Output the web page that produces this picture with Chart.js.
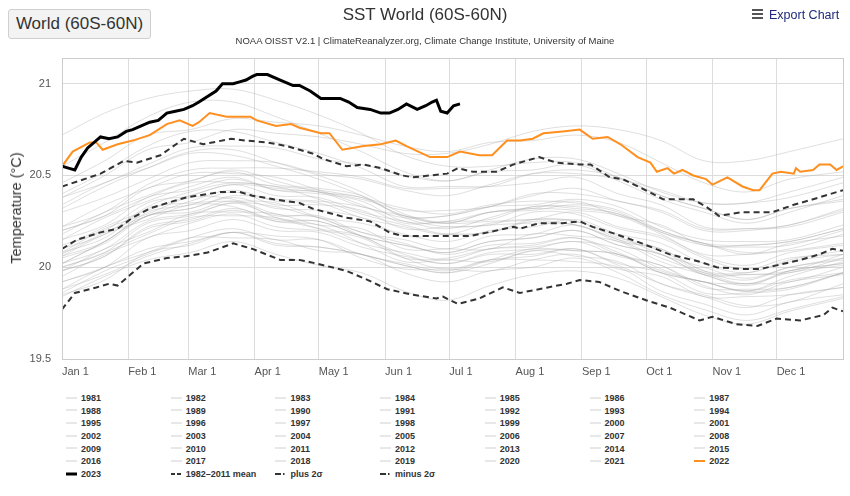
<!DOCTYPE html>
<html>
<head>
<meta charset="utf-8">
<title>SST World (60S-60N)</title>
<script src="https://cdn.jsdelivr.net/npm/chart.js@4"></script>
<style>
  body { margin: 0; background: #fff; font-family: "Liberation Sans", Arial, sans-serif; }
  #wrap { position: relative; width: 850px; height: 496px; overflow: hidden; }
  #chart { position: absolute; left: 0; top: 0; }
  .btn { position: absolute; left: 8px; top: 9px; width: 141px; height: 28px; border: 1px solid #cfcfcf; border-radius: 3px; background: #f3f3f3; font-size: 17px; line-height: 28px; text-align: center; color: #333; }
  .title { position: absolute; left: 0; width: 850px; top: 5px; text-align: center; font-size: 17px; color: #333; }
  .sub { position: absolute; left: 0; width: 850px; top: 35px; text-align: center; font-size: 9.5px; color: #333; }
  .export { position: absolute; left: 752px; top: 8px; font-size: 12.5px; color: #1f2a7a; }
  .export i { display: inline-block; width: 11px; height: 2px; background: #555; position: relative; top: -4px; margin-right: 6px; box-shadow: 0 -4px 0 #555, 0 4px 0 #555; }
  .ytitle { position: absolute; left: 16px; top: 208px; transform: translate(-50%, -50%) rotate(-90deg); font-size: 14.5px; color: #333; white-space: nowrap; }
  .leg { position: absolute; font-size: 9px; font-weight: bold; color: #333; white-space: nowrap; height: 12px; line-height: 12px; }
  .leg svg { vertical-align: middle; margin-right: 4px; position: relative; top: -1px; }
</style>
</head>
<body>
<div id="wrap">
  <canvas id="chart" width="850" height="382"></canvas>
  <div class="btn">World (60S-60N)</div>
  <div class="title">SST World (60S-60N)</div>
  <div class="sub">NOAA OISST V2.1 | ClimateReanalyzer.org, Climate Change Institute, University of Maine</div>
  <div class="export"><i></i>Export Chart</div>
  <div class="ytitle">Temperature (°C)</div>
  <div id="legend"></div>
</div>
<script>
// axis ticks
const MONTH_DAYS = [0, 31, 59, 90, 120, 151, 181, 212, 243, 273, 304, 334];
const MONTH_LABELS = ["Jan 1", "Feb 1", "Mar 1", "Apr 1", "May 1", "Jun 1", "Jul 1", "Aug 1", "Sep 1", "Oct 1", "Nov 1", "Dec 1"];
const Y_TICKS = [19.5, 20, 20.5, 21];

// 2023 (partial year)
const days2023 = [0,3,6,9,12,18,22,26,30,33,37,41,45,49,53,57,61,64,68,72,75,80,83,86,89,91,96,102,108,111,116,121,130,134,138,144,149,153,157,161,166,170,173,175,177,180,183,186];
const sst2023 = [20.55,20.54,20.53,20.60,20.65,20.71,20.70,20.71,20.74,20.75,20.77,20.79,20.80,20.84,20.85,20.86,20.88,20.90,20.93,20.96,21.00,21.00,21.01,21.02,21.04,21.05,21.05,21.02,20.99,20.99,20.96,20.92,20.92,20.90,20.87,20.86,20.84,20.84,20.86,20.89,20.86,20.88,20.90,20.91,20.85,20.84,20.88,20.89];

// 2022
const days2022 = [0,5,13,16,19,26,33,41,49,55,61,64,69,77,88,91,100,107,111,121,125,131,141,149,156,161,172,180,186,195,201,208,214,220,225,234,242,248,255,261,269,275,278,283,286,290,295,301,304,311,318,323,326,332,336,342,343,345,351,354,359,362,365];
const sst2022 = [20.55,20.63,20.68,20.68,20.64,20.67,20.69,20.72,20.78,20.80,20.77,20.79,20.84,20.82,20.82,20.80,20.77,20.78,20.76,20.73,20.73,20.64,20.66,20.67,20.69,20.66,20.60,20.60,20.63,20.61,20.61,20.69,20.69,20.70,20.73,20.74,20.75,20.70,20.71,20.67,20.60,20.57,20.52,20.54,20.51,20.53,20.50,20.48,20.45,20.49,20.44,20.42,20.42,20.51,20.52,20.51,20.54,20.52,20.53,20.56,20.56,20.53,20.55];

// 1982-2011 mean and +/- 2 sigma
const daysMean = [0,7,18,26,33,41,52,58,74,83,89,99,111,117,133,144,153,159,172,191,199,211,214,223,234,242,248,259,271,284,298,306,318,326,334,345,354,360,365];
const sstMean = [20.10,20.15,20.19,20.21,20.27,20.32,20.36,20.38,20.41,20.41,20.39,20.37,20.35,20.32,20.27,20.25,20.19,20.17,20.17,20.17,20.19,20.22,20.21,20.24,20.24,20.25,20.22,20.18,20.13,20.07,20.03,20.00,19.99,19.99,20.01,20.04,20.07,20.10,20.09];
const daysPlus = [0,8,18,29,35,46,57,66,79,86,96,105,117,122,133,141,149,159,164,180,185,192,203,211,223,231,242,247,256,262,271,281,295,301,307,318,332,342,351,365];
const sstPlus = [20.44,20.47,20.51,20.58,20.57,20.61,20.70,20.67,20.70,20.69,20.68,20.66,20.62,20.59,20.55,20.56,20.54,20.50,20.49,20.51,20.54,20.52,20.52,20.56,20.60,20.57,20.56,20.56,20.49,20.48,20.43,20.37,20.37,20.33,20.28,20.30,20.30,20.34,20.37,20.42];
const daysMinus = [0,6,16,22,26,32,38,49,58,68,80,89,102,111,119,133,143,152,164,175,178,185,195,206,214,227,236,242,251,261,273,284,298,304,315,325,334,345,356,360,365];
const sstMinus = [19.77,19.86,19.89,19.91,19.90,19.96,20.02,20.05,20.06,20.08,20.13,20.10,20.04,20.04,20.02,19.98,19.93,19.88,19.85,19.83,19.84,19.80,19.83,19.89,19.86,19.89,19.91,19.93,19.92,19.87,19.82,19.78,19.71,19.73,19.69,19.68,19.72,19.71,19.74,19.78,19.76];

// earlier years, read roughly every 20 days
const grayDays = [0,20,40,60,80,100,120,140,160,180,200,220,240,260,280,300,320,340,365];
const y1981 = [19.92,20.00,20.10,20.14,20.19,20.17,20.15,20.05,19.99,19.99,19.98,20.04,20.07,19.99,19.95,19.84,19.84,19.85,19.89];
const y1982 = [19.88,19.96,20.06,20.13,20.19,20.13,20.11,20.07,20.01,19.97,20.02,20.09,20.09,20.07,19.97,19.92,19.87,19.93,19.97];
const y1983 = [20.02,20.14,20.28,20.30,20.36,20.27,20.21,20.17,20.05,19.99,20.04,20.04,20.03,20.00,19.87,19.80,19.74,19.81,19.85];
const y1984 = [19.88,20.00,20.08,20.16,20.16,20.15,20.09,20.07,19.97,19.92,19.98,20.00,20.05,19.97,19.85,19.77,19.71,19.77,19.84];
const y1985 = [19.84,19.95,20.04,20.08,20.14,20.07,20.01,19.97,19.87,19.82,19.90,19.96,19.98,19.94,19.84,19.74,19.69,19.76,19.83];
const y1986 = [19.85,19.93,20.08,20.12,20.19,20.12,20.11,20.07,20.01,19.97,20.04,20.10,20.09,20.07,19.97,19.92,19.87,19.95,20.03];
const y1987 = [20.06,20.14,20.30,20.34,20.41,20.34,20.34,20.31,20.21,20.22,20.23,20.30,20.29,20.21,20.16,20.05,19.99,20.05,20.07];
const y1988 = [20.08,20.21,20.29,20.38,20.37,20.29,20.27,20.17,20.07,20.02,20.07,20.07,20.10,20.01,19.91,19.85,19.79,19.81,19.91];
const y1989 = [19.86,19.98,20.07,20.16,20.21,20.15,20.15,20.07,20.02,19.98,20.04,20.06,20.10,20.02,19.97,19.86,19.86,19.88,19.97];
const y1990 = [19.98,20.10,20.19,20.29,20.30,20.29,20.23,20.21,20.10,20.10,20.10,20.18,20.17,20.14,20.03,19.96,19.90,19.98,20.02];
const y1991 = [20.00,20.08,20.24,20.28,20.35,20.28,20.28,20.19,20.15,20.10,20.17,20.18,20.23,20.14,20.10,19.98,19.93,20.00,20.04];
const y1992 = [20.06,20.18,20.26,20.34,20.33,20.25,20.23,20.13,20.03,20.04,20.03,20.09,20.06,20.03,19.91,19.84,19.78,19.85,19.89];
const y1993 = [19.92,20.00,20.16,20.20,20.26,20.20,20.19,20.11,20.06,20.02,20.08,20.10,20.14,20.06,20.01,19.90,19.85,19.92,19.96];
const y1994 = [19.98,20.06,20.21,20.25,20.31,20.25,20.25,20.17,20.12,20.08,20.14,20.16,20.20,20.12,20.07,19.96,19.96,19.98,20.07];
const y1995 = [20.08,20.16,20.32,20.35,20.36,20.35,20.27,20.19,20.13,20.07,20.12,20.13,20.16,20.07,20.01,19.89,19.88,19.89,19.97];
const y1996 = [19.95,20.07,20.16,20.24,20.29,20.22,20.20,20.16,20.05,20.05,20.10,20.11,20.14,20.10,19.99,19.92,19.91,19.92,20.00];
const y1997 = [20.02,20.14,20.28,20.32,20.39,20.37,20.36,20.33,20.27,20.28,20.33,20.39,20.43,20.36,20.31,20.21,20.21,20.23,20.32];
const y1998 = [20.34,20.46,20.54,20.62,20.61,20.55,20.48,20.39,20.27,20.22,20.23,20.24,20.23,20.15,20.05,19.97,19.91,19.97,20.01];
const y1999 = [20.00,20.08,20.18,20.27,20.28,20.27,20.21,20.13,20.08,20.04,20.10,20.12,20.16,20.08,19.98,19.92,19.87,19.89,19.97];
const y2000 = [19.98,20.06,20.22,20.26,20.32,20.26,20.25,20.17,20.12,20.08,20.14,20.16,20.20,20.12,20.07,19.96,19.91,19.98,20.02];
const y2001 = [20.07,20.19,20.28,20.36,20.42,20.36,20.35,20.27,20.22,20.18,20.24,20.26,20.30,20.22,20.17,20.06,20.01,20.08,20.12];
const y2002 = [20.15,20.23,20.38,20.42,20.48,20.42,20.41,20.33,20.28,20.24,20.30,20.32,20.36,20.28,20.23,20.12,20.12,20.14,20.21];
const y2003 = [20.22,20.34,20.43,20.51,20.51,20.49,20.42,20.34,20.24,20.25,20.26,20.33,20.32,20.29,20.19,20.13,20.08,20.10,20.18];
const y2004 = [20.15,20.27,20.36,20.44,20.49,20.42,20.40,20.36,20.25,20.25,20.30,20.31,20.34,20.30,20.19,20.12,20.11,20.12,20.20];
const y2005 = [20.20,20.28,20.43,20.47,20.53,20.47,20.41,20.38,20.28,20.24,20.30,20.32,20.31,20.28,20.18,20.07,20.07,20.09,20.13];
const y2006 = [20.12,20.20,20.35,20.39,20.45,20.39,20.38,20.30,20.25,20.21,20.27,20.33,20.33,20.29,20.20,20.13,20.12,20.14,20.21];
const y2007 = [20.20,20.28,20.38,20.46,20.46,20.44,20.37,20.29,20.23,20.18,20.19,20.25,20.23,20.15,20.09,19.97,19.96,19.97,20.05];
const y2008 = [20.02,20.10,20.25,20.29,20.35,20.33,20.27,20.24,20.18,20.14,20.20,20.22,20.26,20.18,20.13,20.02,19.97,20.04,20.09];
const y2009 = [20.10,20.22,20.31,20.39,20.45,20.43,20.41,20.37,20.31,20.31,20.33,20.40,20.40,20.36,20.30,20.20,20.20,20.23,20.31];
const y2010 = [20.32,20.44,20.54,20.63,20.64,20.57,20.50,20.41,20.29,20.24,20.25,20.26,20.25,20.17,20.07,20.00,19.94,20.00,20.05];
const y2011 = [20.05,20.13,20.28,20.32,20.38,20.32,20.31,20.27,20.17,20.18,20.19,20.26,20.25,20.16,20.10,19.98,19.97,20.03,20.07];
const y2012 = [20.10,20.18,20.33,20.41,20.46,20.44,20.42,20.38,20.32,20.29,20.34,20.36,20.35,20.31,20.20,20.13,20.07,20.13,20.17];
const y2013 = [20.18,20.30,20.39,20.47,20.52,20.45,20.43,20.39,20.28,20.28,20.33,20.34,20.37,20.33,20.22,20.15,20.14,20.15,20.23];
const y2014 = [20.22,20.30,20.45,20.53,20.54,20.54,20.52,20.49,20.43,20.43,20.44,20.51,20.53,20.49,20.39,20.32,20.26,20.32,20.36];
const y2015 = [20.38,20.50,20.64,20.68,20.75,20.73,20.71,20.67,20.62,20.62,20.67,20.74,20.77,20.75,20.69,20.58,20.58,20.63,20.70];
const y2016 = [20.72,20.84,20.92,20.96,20.97,20.91,20.83,20.73,20.61,20.55,20.55,20.57,20.57,20.49,20.39,20.32,20.26,20.32,20.37];
const y2017 = [20.40,20.52,20.66,20.74,20.74,20.68,20.62,20.54,20.44,20.44,20.44,20.46,20.49,20.40,20.34,20.22,20.21,20.22,20.30];
const y2018 = [20.30,20.38,20.48,20.57,20.58,20.57,20.51,20.48,20.42,20.39,20.45,20.51,20.51,20.48,20.42,20.35,20.35,20.38,20.46];
const y2019 = [20.46,20.58,20.72,20.75,20.81,20.79,20.77,20.72,20.66,20.63,20.68,20.69,20.72,20.68,20.57,20.46,20.41,20.48,20.52];
const y2020 = [20.55,20.68,20.82,20.90,20.90,20.82,20.73,20.63,20.52,20.47,20.52,20.53,20.56,20.47,20.37,20.30,20.24,20.30,20.39];
const y2021 = [20.38,20.46,20.56,20.65,20.66,20.65,20.59,20.56,20.50,20.47,20.53,20.59,20.59,20.51,20.41,20.35,20.35,20.41,20.49];

const grayYears = [1981,1982,1983,1984,1985,1986,1987,1988,1989,1990,1991,1992,1993,1994,1995,1996,1997,1998,1999,2000,2001,2002,2003,2004,2005,2006,2007,2008,2009,2010,2011,2012,2013,2014,2015,2016,2017,2018,2019,2020,2021];
const graySeries = [y1981,y1982,y1983,y1984,y1985,y1986,y1987,y1988,y1989,y1990,y1991,y1992,y1993,y1994,y1995,y1996,y1997,y1998,y1999,y2000,y2001,y2002,y2003,y2004,y2005,y2006,y2007,y2008,y2009,y2010,y2011,y2012,y2013,y2014,y2015,y2016,y2017,y2018,y2019,y2020,y2021];

const GRAY = "rgba(170,170,170,0.38)";
const ORANGE = "#ff8f1f";
const DASH = "#333";

function pts(days, vals) {
  return days.map((d, i) => ({ x: d, y: vals[i] }));
}

const datasets = [];
datasets.push({ label: "2023", data: pts(days2023, sst2023), borderColor: "#000", borderWidth: 3, order: 0 });
datasets.push({ label: "2022", data: pts(days2022, sst2022), borderColor: ORANGE, borderWidth: 2, order: 1 });
datasets.push({ label: "1982-2011 mean", data: pts(daysMean, sstMean), borderColor: DASH, borderWidth: 2, borderDash: [6, 4], order: 2 });
datasets.push({ label: "plus 2σ", data: pts(daysPlus, sstPlus), borderColor: DASH, borderWidth: 2, borderDash: [6, 4], order: 2 });
datasets.push({ label: "minus 2σ", data: pts(daysMinus, sstMinus), borderColor: DASH, borderWidth: 2, borderDash: [6, 4], order: 2 });
grayYears.forEach((yr, i) => {
  datasets.push({ label: String(yr), data: pts(grayDays, graySeries[i]), borderColor: GRAY, borderWidth: 1, tension: 0.35, order: 3 });
});

// plot border
const frame = {
  id: "frame",
  afterDraw(chart) {
    const a = chart.chartArea, c = chart.ctx;
    c.save();
    c.strokeStyle = "#cccccc";
    c.lineWidth = 1;
    c.strokeRect(a.left + 0.5, a.top + 0.5, a.right - a.left, a.bottom - a.top);
    c.restore();
  }
};

Chart.defaults.font.family = '"Liberation Sans", Arial, sans-serif';

new Chart(document.getElementById("chart"), {
  type: "line",
  data: { datasets },
  plugins: [frame],
  options: {
    responsive: false,
    animation: false,
    elements: { point: { radius: 0 }, line: { fill: false } },
    layout: { padding: { top: 58, right: 7, left: 0, bottom: 0 } },
    plugins: { legend: { display: false }, tooltip: { enabled: false } },
    scales: {
      x: {
        type: "linear",
        min: 0,
        max: 365,
        afterBuildTicks: (s) => { s.ticks = MONTH_DAYS.concat([365]).map((v) => ({ value: v })); },
        afterFit: (s) => { s.height = 23; },
        grid: { color: "#dcdcdc", drawTicks: false },
        border: { color: "#cccccc" },
        ticks: {
          align: "start",
          padding: 6,
          maxRotation: 0,
          autoSkip: false,
          color: "#555",
          font: { size: 11 },
          callback: (v) => { const i = MONTH_DAYS.indexOf(v); return i >= 0 ? MONTH_LABELS[i] : ""; }
        }
      },
      y: {
        min: 19.5,
        max: 21.14,
        afterBuildTicks: (s) => { s.ticks = Y_TICKS.map((v) => ({ value: v })); },
        afterFit: (s) => { s.width = 62; },
        grid: { color: "#dcdcdc", drawTicks: false },
        border: { color: "#cccccc" },
        ticks: { padding: 11, color: "#555", font: { size: 11 }, callback: (v) => String(v) }
      }
    }
  }
});

// legend, 7 columns
const legendItems = grayYears.map((y) => ({ label: String(y), kind: "gray" }))
  .concat([
    { label: "2022", kind: "orange" },
    { label: "2023", kind: "black" },
    { label: "1982–2011 mean", kind: "dash" },
    { label: "plus 2σ", kind: "dashdot" },
    { label: "minus 2σ", kind: "dashdot" }
  ]);

function sample(kind) {
  const s = { gray: ["#d0d0d0", 1, ""], orange: [ORANGE, 2, ""], black: ["#000", 3, ""], dash: ["#333", 2, "4,2"], dashdot: ["#333", 2, "6,2,1.5,2"] }[kind];
  return `<svg width="11" height="8"><line x1="0" y1="4" x2="11" y2="4" stroke="${s[0]}" stroke-width="${s[1]}" stroke-dasharray="${s[2]}"/></svg>`;
}

const legendBox = document.getElementById("legend");
legendItems.forEach((it, i) => {
  const col = i % 7, row = Math.floor(i / 7);
  const div = document.createElement("div");
  div.className = "leg";
  div.style.left = (66 + col * 104.7) + "px";
  div.style.top = (392 + row * 12.67) + "px";
  div.innerHTML = sample(it.kind) + it.label;
  legendBox.appendChild(div);
});
</script>
</body>
</html>
